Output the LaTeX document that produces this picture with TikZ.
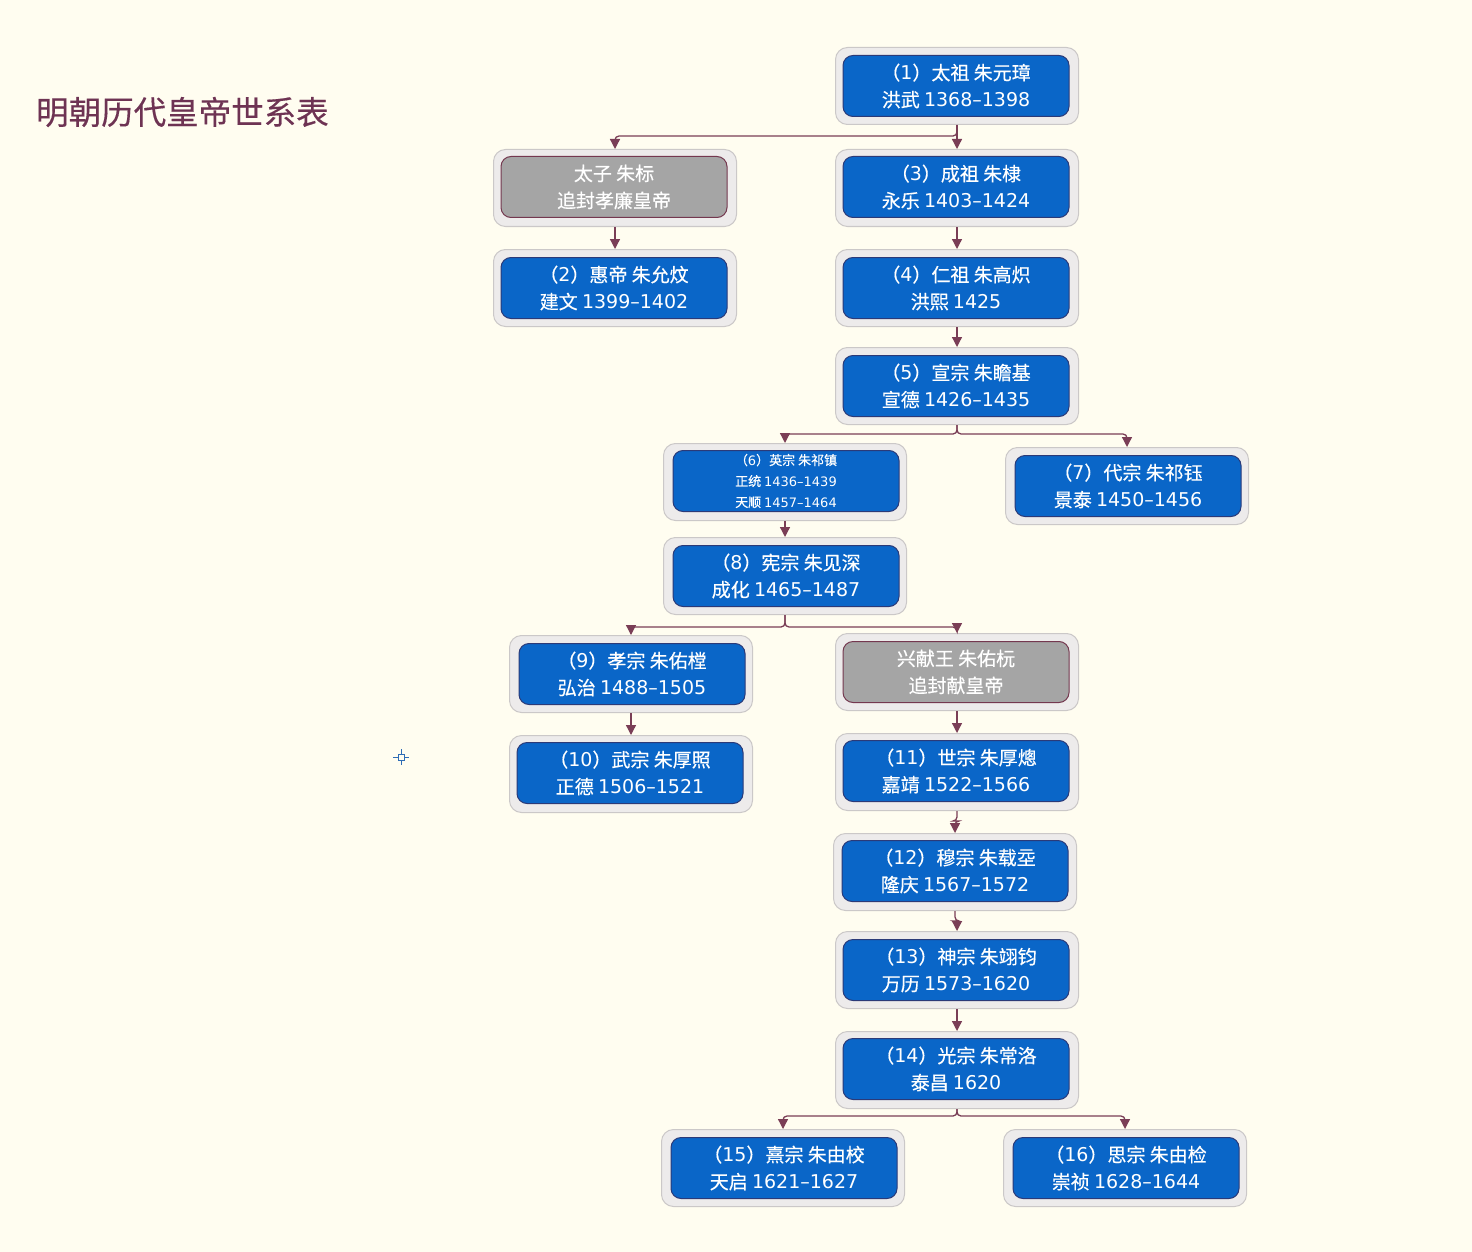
\documentclass[tikz,border=0pt]{standalone}
\usepackage{fontspec}
\newfontfamily\cjk[FakeBold=0.4]{Noto Sans CJK SC}
\newfontfamily\latf{DejaVu Sans}
\newcommand\yr[1]{{\latf #1}}
\usetikzlibrary{arrows.meta,calc}
\definecolor{bgcream}{HTML}{FFFDF0}
\definecolor{framefill}{HTML}{EDEBEB}
\definecolor{framegray}{HTML}{CBC8C8}
\definecolor{empblue}{HTML}{0A66C8}
\definecolor{blueborder}{HTML}{2B3A78}
\definecolor{grayfill}{HTML}{A5A5A5}
\definecolor{grayborder}{HTML}{74384F}
\definecolor{conncol}{HTML}{7A3E56}
\definecolor{titlecol}{HTML}{6E3353}
\definecolor{markblue}{HTML}{2F6DB5}
\tikzset{
  frame/.style={draw=framegray, fill=framefill, rounded corners=12pt, minimum width=243pt, minimum height=77pt, line width=1pt, inner sep=0pt},
  emp/.style={draw=blueborder, fill=empblue, rounded corners=10pt, minimum width=226pt, minimum height=61pt, text=white, align=center, line width=1pt, font=\cjk\fontsize{19}{27}\selectfont},
  empsmall/.style={emp, font=\cjk\fontsize{13}{21}\selectfont},
  prince/.style={emp, draw=grayborder, fill=grayfill},
  conn/.style={draw=conncol, line width=1.3pt, rounded corners=4pt, -{Triangle[width=10pt,length=10pt]}},
}
\begin{document}
\begin{tikzpicture}[x=1pt,y=-1pt]
\fill[bgcream] (0,0) rectangle (1472,1252);
\useasboundingbox (0,0) rectangle (1472,1252);

\node[font=\cjk\fontsize{32.5}{36}\selectfont, text=titlecol, anchor=west, inner sep=0pt] (title) at (36,112) {明朝历代皇帝世系表};

% marker
\coordinate (mk) at (401,757);
\draw[markblue, line width=1pt] ($(mk)+(-3,-3)$) rectangle ($(mk)+(3,3)$);
\draw[markblue, line width=1pt] ($(mk)+(-8,0)$) -- ($(mk)+(-3,0)$) ($(mk)+(3,0)$) -- ($(mk)+(8,0)$)
  ($(mk)+(0,-8)$) -- ($(mk)+(0,-3)$) ($(mk)+(0,3)$) -- ($(mk)+(0,8)$);

% frames and boxes
\node[frame] (f1) at (957,86) {};
\node[emp] (n1) at (956,86) {（\yr{1}）太祖 朱元璋\\洪武 \yr{1368–1398}};
\node[frame] (fT) at (615,188) {};
\node[prince] (nT) at (614,187) {太子 朱标\\追封孝廉皇帝};
\node[frame] (f3) at (957,188) {};
\node[emp] (n3) at (956,187) {（\yr{3}）成祖 朱棣\\永乐 \yr{1403–1424}};
\node[frame] (f2) at (615,288) {};
\node[emp] (n2) at (614,288) {（\yr{2}）惠帝 朱允炆\\建文 \yr{1399–1402}};
\node[frame] (f4) at (957,288) {};
\node[emp] (n4) at (956,288) {（\yr{4}）仁祖 朱高炽\\洪熙 \yr{1425}};
\node[frame] (f5) at (957,386) {};
\node[emp] (n5) at (956,386) {（\yr{5}）宣宗 朱瞻基\\宣德 \yr{1426–1435}};
\node[frame] (f6) at (785,482) {};
\node[empsmall] (n6) at (786,481) {（\yr{6}）英宗 朱祁镇\\正统 \yr{1436–1439}\\天顺 \yr{1457–1464}};
\node[frame] (f7) at (1127,486) {};
\node[emp] (n7) at (1128,486) {（\yr{7}）代宗 朱祁钰\\景泰 \yr{1450–1456}};
\node[frame] (f8) at (785,576) {};
\node[emp] (n8) at (786,576) {（\yr{8}）宪宗 朱见深\\成化 \yr{1465–1487}};
\node[frame] (f9) at (631,674) {};
\node[emp] (n9) at (632,674) {（\yr{9}）孝宗 朱佑樘\\弘治 \yr{1488–1505}};
\node[frame] (fX) at (957,672) {};
\node[prince] (nX) at (956,672) {兴献王 朱佑杬\\追封献皇帝};
\node[frame] (f10) at (631,774) {};
\node[emp] (n10) at (630,773) {（\yr{10}）武宗 朱厚照\\正德 \yr{1506–1521}};
\node[frame] (f11) at (957,772) {};
\node[emp] (n11) at (956,771) {（\yr{11}）世宗 朱厚熜\\嘉靖 \yr{1522–1566}};
\node[frame] (f12) at (955,872) {};
\node[emp] (n12) at (955,871) {（\yr{12}）穆宗 朱载坖\\隆庆 \yr{1567–1572}};
\node[frame] (f13) at (957,970) {};
\node[emp] (n13) at (956,970) {（\yr{13}）神宗 朱翊钧\\万历 \yr{1573–1620}};
\node[frame] (f14) at (957,1070) {};
\node[emp] (n14) at (956,1069) {（\yr{14}）光宗 朱常洛\\泰昌 \yr{1620}};
\node[frame] (f15) at (783,1168) {};
\node[emp] (n15) at (784,1168) {（\yr{15}）熹宗 朱由校\\天启 \yr{1621–1627}};
\node[frame] (f16) at (1125,1168) {};
\node[emp] (n16) at (1126,1168) {（\yr{16}）思宗 朱由检\\崇祯 \yr{1628–1644}};

% connectors
\draw[conn] (f1.south) -- (f3.north);
\draw[conn] (f1.south) -- ++(0,11) -| (fT.north);
\draw[conn] (fT.south) -- (f2.north);
\draw[conn] (f3.south) -- (f4.north);
\draw[conn] (f4.south) -- (f5.north);
\draw[conn] (f5.south) -- ++(0,9) -| (f6.north);
\draw[conn] (f5.south) -- ++(0,9) -| (f7.north);
\draw[conn] (f6.south) -- (f8.north);
\draw[conn] (f8.south) -- ++(0,12) -| (f9.north);
\draw[conn] (f8.south) -- ++(0,12) -| (fX.north);
\draw[conn] (f9.south) -- (f10.north);
\draw[conn] (fX.south) -- (f11.north);
\draw[conn] (f11.south) -- ++(0,10) -| (f12.north);
\draw[conn] (f12.south) -- ++(0,10) -| (f13.north);
\draw[conn] (f13.south) -- (f14.north);
\draw[conn] (f14.south) -- ++(0,7) -| (f15.north);
\draw[conn] (f14.south) -- ++(0,7) -| (f16.north);
\end{tikzpicture}
\end{document}
